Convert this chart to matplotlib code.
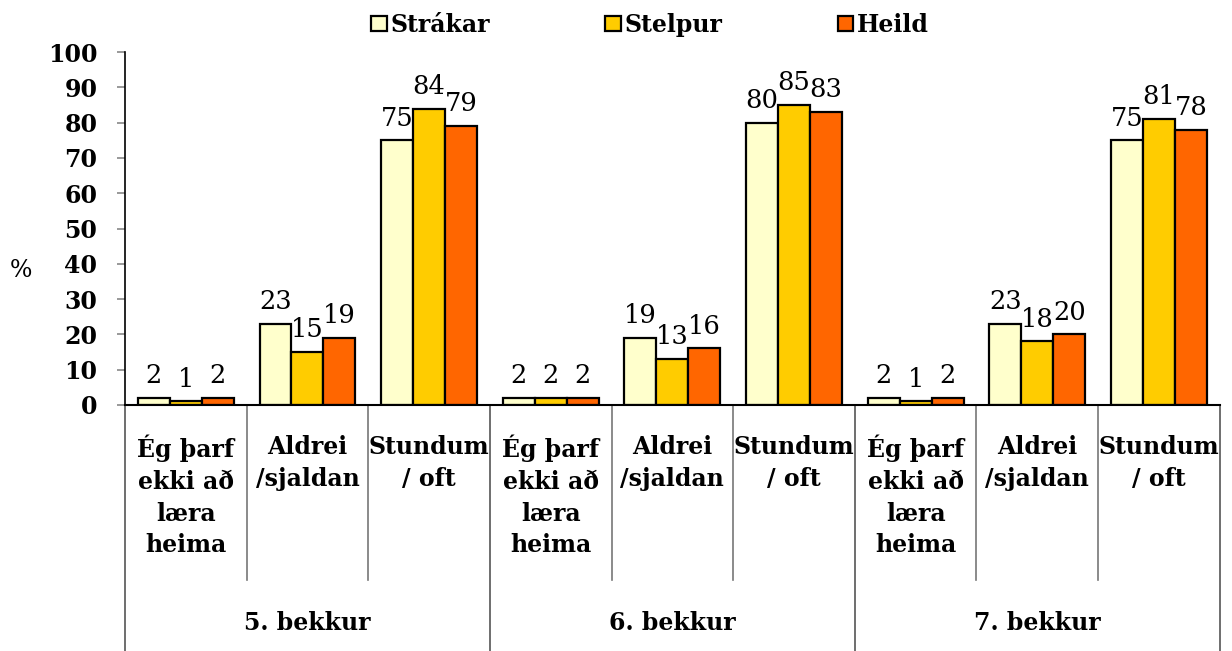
import matplotlib.pyplot as plt
import numpy as np

# Data
groups = ["5. bekkur", "6. bekkur", "7. bekkur"]
answers = ["Ég þarf\nekki að\nlæra\nheima", "Aldrei\n/sjaldan", "Stundum\n/ oft"]
series_names = ["Strákar", "Stelpur", "Heild"]
strakar = [2, 23, 75, 2, 19, 80, 2, 23, 75]
stelpur = [1, 15, 84, 2, 13, 85, 1, 18, 81]
heild = [2, 19, 79, 2, 16, 83, 2, 20, 78]
colors = ["#FFFFCC", "#FFCC00", "#FF6600"]

plt.rcParams['font.family'] = ['DejaVu Serif']
plt.rcParams['font.size'] = 17
plt.rcParams['font.weight'] = 'bold'

fig = plt.figure(figsize=(12.32, 6.51), dpi=100)
ax = fig.add_axes([0.1015, 0.378, 0.8885, 0.542])

x = np.arange(len(strakar))
w = 0.263
for i, (vals, name, c) in enumerate(zip([strakar, stelpur, heild], series_names, colors)):
    bars = ax.bar(x + (i - 1) * w, vals, w, color=c, edgecolor="black", linewidth=1.6, label=name)
    ax.bar_label(bars, padding=7, fontsize=18.5, fontweight='normal')

ax.set_xlim(-0.5, len(strakar) - 0.5)
ax.set_ylim(0, 100)
ax.set_yticks(range(0, 101, 10))
ax.tick_params(axis='y', length=6, color='#888888', width=1.2, pad=14)
ax.set_xticks([])
for s in ['top', 'right']:
    ax.spines[s].set_visible(False)
ax.spines['left'].set_linewidth(1.2)
ax.spines['bottom'].set_linewidth(1.5)

ax.text(-0.095, 0.38, "%", transform=ax.transAxes, ha='center', va='center', fontsize=17,
        fontweight='normal')

# multi-level category axis
tr = ax.get_xaxis_transform()
for k in range(len(strakar) + 1):
    xe = k - 0.5
    if k % 3 == 0:
        ax.plot([xe, xe], [0, -0.697], transform=tr, color='#555555', lw=1.2, clip_on=False)
    else:
        ax.plot([xe, xe], [0, -0.496], transform=tr, color='#777777', lw=1.2, clip_on=False)
for k in range(len(strakar)):
    ax.text(k, -0.085, answers[k % 3], transform=tr, ha='center', va='top',
            fontsize=17, linespacing=1.4)
for g, name in enumerate(groups):
    ax.text(g * 3 + 1, -0.618, name, transform=tr, ha='center', va='center', fontsize=17)

fig.legend(loc='center', bbox_to_anchor=(0.5275, 0.962), ncol=3, frameon=False,
           handlelength=0.65, handleheight=0.65, handletextpad=0.15, columnspacing=4.9,
           fontsize=17, borderaxespad=0)

fig.savefig("out.png", dpi=100)
